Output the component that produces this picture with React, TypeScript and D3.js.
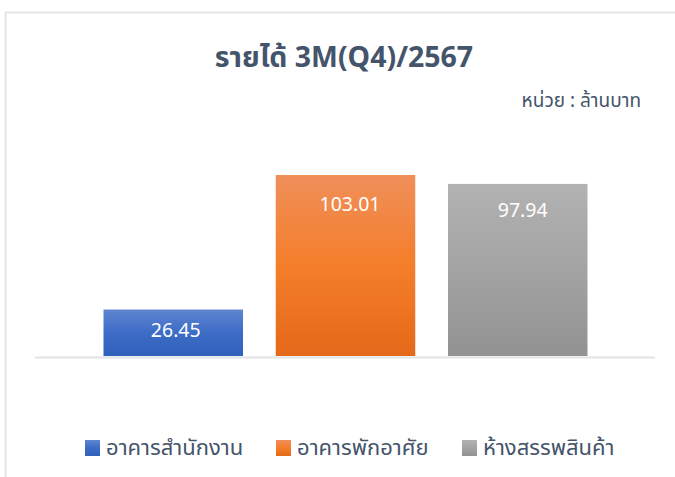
import React from "react";
import * as d3 from "d3";

const categories = ["อาคารสำนักงาน", "อาคารพักอาศัย", "ห้างสรรพสินค้า"];
const values = [26.45, 103.01, 97.94];
const valueLabels = ["26.45", "103.01", "97.94"];
const gradients = [
  ["#5e86d0", "#3d6cc6", "#2f60bb"],
  ["#f08f5a", "#f47e2a", "#e4691a"],
  ["#b2b2b2", "#a3a3a3", "#929292"],
];
const title = "รายได้ 3M(Q4)/2567";
const unit = "หน่วย : ล้านบาท";

const W = 675;
const H = 477;
const FONT = "'Noto Sans', 'Noto Sans Thai', Tahoma, sans-serif";
// label placement offsets (styling)
const labelDx = [2.5, 4.5, 5];
const labelDy = [27, 36, 33];

export default function App() {
  const x = d3.scaleBand<string>().domain(categories).range([88, 603]).paddingInner(0.19).paddingOuter(0.09);
  const y = d3.scaleLinear().domain([0, 103.01]).range([356, 175]);
  const legendX = [85, 276, 462];

  return (
    <svg width={W} height={H} style={{ position: "absolute", left: 0, top: 0 }}>
      <defs>
        {gradients.map((g, i) => (
          <linearGradient key={i} id={`g${i}`} x1="0" y1="0" x2="0" y2="1">
            <stop offset="0%" stopColor={g[0]} />
            <stop offset="50%" stopColor={g[1]} />
            <stop offset="100%" stopColor={g[2]} />
          </linearGradient>
        ))}
      </defs>
      <rect x={0} y={0} width={W} height={H} fill="#fff" />
      <line x1={5} y1={12.5} x2={W} y2={12.5} stroke="#e2e5ea" strokeWidth={2} />
      <line x1={5.5} y1={12} x2={5.5} y2={H} stroke="#e2e5ea" strokeWidth={2} />
      <text x={344} y={67} textAnchor="middle" fontFamily={FONT} fontWeight="bold" fontSize={28.5} fill="#44546a">
        {title}
      </text>
      <text x={641} y={107} textAnchor="end" fontFamily={FONT} fontSize={19} fill="#44546a">
        {unit}
      </text>
      {categories.map((c, i) => (
        <g key={c}>
          <rect
            x={x(c)}
            y={y(values[i])}
            width={x.bandwidth()}
            height={y(0) - y(values[i])}
            fill={`url(#g${i})`}
          />
          <text
            x={(x(c) as number) + x.bandwidth() / 2 + labelDx[i]}
            y={y(values[i]) + labelDy[i]}
            textAnchor="middle"
            fontFamily={FONT}
            fontSize={19.5}
            fill="#ffffff"
          >
            {valueLabels[i]}
          </text>
        </g>
      ))}
      <line x1={35} y1={357.5} x2={655} y2={357.5} stroke="#dfe3e8" strokeWidth={2} />
      {categories.map((c, i) => (
        <g key={"l" + c}>
          <rect x={legendX[i]} y={440} width={15} height={16} fill={`url(#g${i})`} />
          <text x={legendX[i] + 21} y={455} fontFamily={FONT} fontSize={22} fill="#44546a">
            {c}
          </text>
        </g>
      ))}
    </svg>
  );
}
